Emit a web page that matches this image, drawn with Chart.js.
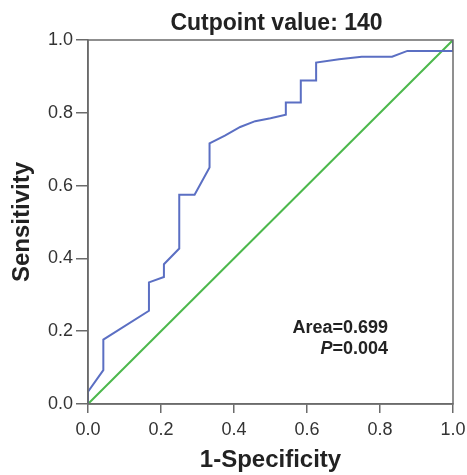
<!DOCTYPE html>
<html>
<head>
<meta charset="utf-8">
<script src="https://cdn.jsdelivr.net/npm/chart.js@4"></script>
<style>
  html, body { margin: 0; padding: 0; background: #fff; }
  #wrap { width: 467px; height: 475px; }
</style>
</head>
<body>
<div id="wrap"><canvas id="roc" width="467" height="475"></canvas></div>
<script>
// ROC curve points (1-specificity, sensitivity)
const fprValues = [0, 0, 0.042, 0.042, 0.167, 0.167, 0.208, 0.208, 0.25, 0.25, 0.292, 0.333, 0.333,
  0.375, 0.417, 0.458, 0.5, 0.542, 0.542, 0.583, 0.583, 0.625, 0.625, 0.688, 0.75, 0.833, 0.875, 1, 1];
const tprValues = [0, 0.034, 0.093, 0.177, 0.256, 0.334, 0.349, 0.384, 0.427, 0.575, 0.575, 0.65, 0.716,
  0.737, 0.761, 0.777, 0.785, 0.795, 0.828, 0.828, 0.889, 0.889, 0.938, 0.947, 0.954, 0.954, 0.97, 0.97, 1];
// reference line
const refX = [0, 1];
const refY = [0, 1];

const tickValues = [0, 0.2, 0.4, 0.6, 0.8, 1.0];
const titleText = "Cutpoint value: 140";
const areaLabel = "Area=0.699";
const pLabel = "=0.004";

const rocPoints = fprValues.map((x, i) => ({ x: x, y: tprValues[i] }));
const refPoints = refX.map((x, i) => ({ x: x, y: refY[i] }));

const FONT = "'Liberation Sans', Arial, sans-serif";

// box round the plot, the title over the plot and the area / p text
const framePlugin = {
  id: "frame",
  afterDraw(chart) {
    const ctx = chart.ctx;
    const a = chart.chartArea;
    ctx.save();
    ctx.strokeStyle = "#6b6b6b";
    ctx.lineWidth = 1.5;
    ctx.strokeRect(a.left, a.top, a.right - a.left, a.bottom - a.top);

    ctx.fillStyle = "#222";
    ctx.textBaseline = "middle";
    ctx.textAlign = "center";
    ctx.font = "bold 23px " + FONT;
    ctx.fillText(titleText, (a.left + a.right) / 2 + 6, 24);

    ctx.textAlign = "right";
    ctx.font = "bold 18px " + FONT;
    const rightX = 388;
    ctx.fillText(areaLabel, rightX, 328);
    const w = ctx.measureText(pLabel).width;
    ctx.fillText(pLabel, rightX, 349);
    ctx.font = "italic bold 18px " + FONT;
    ctx.fillText("P", rightX - w, 349);
    ctx.restore();
  },
};

new Chart(document.getElementById("roc"), {
  type: "scatter",
  data: {
    datasets: [
      {
        label: "ROC",
        data: rocPoints,
        showLine: true,
        borderColor: "#5b6fc3",
        borderWidth: 2,
        pointRadius: 0,
        tension: 0,
      },
      {
        label: "Reference",
        data: refPoints,
        showLine: true,
        borderColor: "#4cb84c",
        borderWidth: 2,
        pointRadius: 0,
      },
    ],
  },
  options: {
    responsive: false,
    animation: false,
    layout: { padding: { left: 0, right: 14, top: 40, bottom: 0 } },
    plugins: {
      legend: { display: false },
      tooltip: { enabled: false },
      title: { display: false },
    },
    scales: {
      x: {
        type: "linear",
        min: 0,
        max: 1,
        afterBuildTicks: (s) => { s.ticks = tickValues.map((v) => ({ value: v })); },
        afterFit: (s) => {
          s.height = 71;
          s.paddingLeft = 0;
          s.paddingRight = 0;
        },
        ticks: {
          color: "#333",
          font: { family: FONT, size: 18 },
          padding: 6,
          callback: (v) => v.toFixed(1),
          maxRotation: 0,
        },
        grid: { drawOnChartArea: false, drawTicks: true, tickLength: 9, color: "#6b6b6b", lineWidth: 1.5 },
        border: { color: "#6b6b6b", width: 1.5 },
        title: {
          display: true,
          text: "1-Specificity",
          color: "#222",
          font: { family: FONT, size: 24, weight: "bold" },
          padding: { top: 0, bottom: 0 },
        },
      },
      y: {
        type: "linear",
        min: 0,
        max: 1,
        afterBuildTicks: (s) => { s.ticks = tickValues.map((v) => ({ value: v })); },
        afterFit: (s) => {
          s.width = 88;
          s.paddingTop = 0;
          s.paddingBottom = 0;
        },
        ticks: {
          color: "#333",
          font: { family: FONT, size: 18 },
          padding: 3,
          callback: (v) => v.toFixed(1),
        },
        grid: { drawOnChartArea: false, drawTicks: true, tickLength: 12, color: "#6b6b6b", lineWidth: 1.5 },
        border: { color: "#6b6b6b", width: 1.5 },
        title: {
          display: true,
          text: "Sensitivity",
          color: "#222",
          font: { family: FONT, size: 24, weight: "bold" },
          padding: { top: 8, bottom: 0 },
        },
      },
    },
  },
  plugins: [framePlugin],
});
</script>
</body>
</html>
